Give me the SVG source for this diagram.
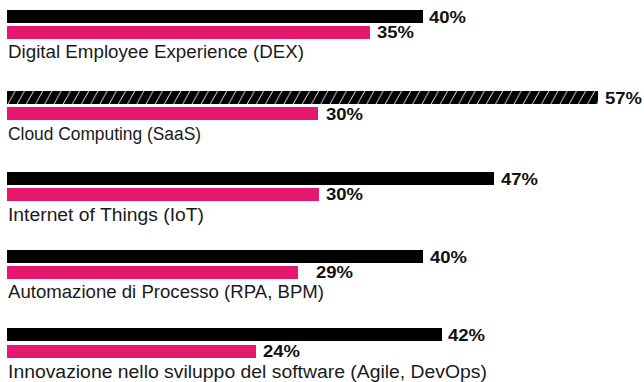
<svg xmlns="http://www.w3.org/2000/svg" width="644" height="382" viewBox="0 0 644 382">
<style>
.a{fill:#000}
.b{fill:#e6186e}
.v{font-family:"Liberation Sans",Arial,sans-serif;font-weight:bold;font-size:16.5px;fill:#111}
.c{font-family:"Liberation Sans",Arial,sans-serif;font-size:18px;fill:#1a1a1a}
</style>
<defs>
<pattern id="h" patternUnits="userSpaceOnUse" x="7" y="91" width="9.2" height="13">
<rect width="9.2" height="13" fill="#000"/>
<line x1="1" y1="13" x2="8.2" y2="0" stroke="#fff" stroke-width="0.9"/>
</pattern>
</defs>
<rect width="644" height="382" fill="#fff"/>
<g id="dex">
<rect class="a" x="7" y="10" width="416" height="13"/>
<rect class="b" x="7" y="26" width="363" height="13"/>
<text class="v" x="429" y="23" textLength="37" lengthAdjust="spacingAndGlyphs">40%</text>
<text class="v" x="377" y="38" textLength="37" lengthAdjust="spacingAndGlyphs">35%</text>
<text class="c" x="8" y="58" textLength="296" lengthAdjust="spacingAndGlyphs">Digital Employee Experience (DEX)</text>
</g>
<g id="cloud">
<rect fill="url(#h)" x="7" y="91" width="591" height="13"/>
<rect class="b" x="7" y="107" width="311" height="13"/>
<text class="v" x="605" y="104" textLength="37" lengthAdjust="spacingAndGlyphs">57%</text>
<text class="v" x="326" y="120" textLength="37" lengthAdjust="spacingAndGlyphs">30%</text>
<text class="c" x="8" y="140" textLength="193" lengthAdjust="spacingAndGlyphs">Cloud Computing (SaaS)</text>
</g>
<g id="iot">
<rect class="a" x="7" y="172" width="487" height="13"/>
<rect class="b" x="7" y="188" width="312" height="13"/>
<text class="v" x="501" y="185" textLength="37" lengthAdjust="spacingAndGlyphs">47%</text>
<text class="v" x="326" y="200" textLength="37" lengthAdjust="spacingAndGlyphs">30%</text>
<text class="c" x="8" y="221" textLength="196" lengthAdjust="spacingAndGlyphs">Internet of Things (IoT)</text>
</g>
<g id="rpa">
<rect class="a" x="7" y="250" width="416" height="13"/>
<rect class="b" x="7" y="266" width="291" height="13"/>
<text class="v" x="430" y="263" textLength="37" lengthAdjust="spacingAndGlyphs">40%</text>
<text class="v" x="316" y="278" textLength="37" lengthAdjust="spacingAndGlyphs">29%</text>
<text class="c" x="8" y="298" textLength="316" lengthAdjust="spacingAndGlyphs">Automazione di Processo (RPA, BPM)</text>
</g>
<g id="devops">
<rect class="a" x="7" y="328" width="435" height="13"/>
<rect class="b" x="7" y="345" width="249" height="13"/>
<text class="v" x="448" y="341" textLength="37" lengthAdjust="spacingAndGlyphs">42%</text>
<text class="v" x="263" y="357" textLength="37" lengthAdjust="spacingAndGlyphs">24%</text>
<text class="c" x="8" y="378" textLength="479" lengthAdjust="spacingAndGlyphs">Innovazione nello sviluppo del software (Agile, DevOps)</text>
</g>
<g id="connectors"/>
</svg>
